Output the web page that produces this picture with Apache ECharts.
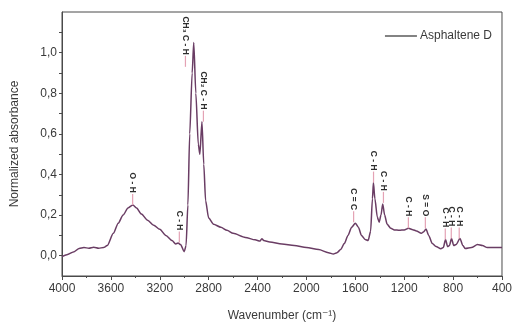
<!DOCTYPE html>
<html>
<head>
<meta charset="utf-8">
<script src="https://cdn.jsdelivr.net/npm/echarts@6/dist/echarts.min.js"></script>
<style>
  html, body { margin: 0; padding: 0; background: #fff; }
  #chart { width: 515px; height: 327px; }
</style>
</head>
<body>
<div id="chart"></div>
<script>
// FTIR spectrum of Asphaltene D: wavenumber (cm-1) and normalized absorbance
const wavenumbers = [
  4000, 3960, 3900, 3860, 3820, 3780, 3740, 3700, 3660, 3630,
  3580, 3540, 3500, 3460, 3420, 3390, 3350, 3300, 3250, 3200,
  3150, 3100, 3070, 3050, 3030, 3000, 2985, 2970, 2955, 2935,
  2922, 2905, 2885, 2872, 2855, 2840, 2825, 2800, 2760, 2700,
  2650, 2600, 2500, 2420, 2380, 2365, 2350, 2300, 2200, 2100,
  2000, 1900, 1820, 1780, 1750, 1720, 1690, 1660, 1630, 1600,
  1575, 1550, 1520, 1495, 1475, 1460, 1452, 1440, 1420, 1405,
  1390, 1376, 1360, 1340, 1310, 1280, 1240, 1200, 1165, 1130,
  1100, 1060, 1040, 1022, 1000, 970, 940, 900, 880, 862,
  845, 830, 813, 795, 775, 744, 720, 700, 650, 600,
  560, 520, 480, 440, 400
];
const absorbance = [
  -0.005, 0.005, 0.02, 0.036, 0.04, 0.037, 0.042, 0.037, 0.04, 0.05,
  0.11, 0.16, 0.20, 0.235, 0.25, 0.235, 0.205, 0.175, 0.15, 0.13,
  0.10, 0.075, 0.058, 0.062, 0.055, 0.02, 0.05, 0.25, 0.60, 0.90,
  1.05, 0.80, 0.55, 0.50, 0.66, 0.45, 0.27, 0.185, 0.155, 0.14,
  0.125, 0.11, 0.09, 0.078, 0.072, 0.084, 0.075, 0.068, 0.058, 0.05,
  0.04, 0.03, 0.015, 0.008, 0.015, 0.03, 0.06, 0.10, 0.14, 0.16,
  0.14, 0.10, 0.08, 0.075, 0.12, 0.28, 0.36, 0.28, 0.19, 0.165,
  0.20, 0.255, 0.20, 0.155, 0.135, 0.127, 0.125, 0.127, 0.135, 0.128,
  0.122, 0.11, 0.118, 0.132, 0.10, 0.06, 0.045, 0.034, 0.04, 0.08,
  0.045, 0.05, 0.085, 0.05, 0.055, 0.085, 0.05, 0.035, 0.04, 0.055,
  0.05, 0.04, 0.04, 0.04, 0.04
];

// Band assignments
const bandWavenumbers = [3422, 3040, 2990, 2843, 1614, 1451, 1370, 1166, 1027, 864, 815, 750];
const bandAbsorbance  = [0.25, 0.065, 0.93, 0.66, 0.165, 0.36, 0.26, 0.135, 0.135, 0.08, 0.085, 0.085];
const bandLabels = ['O - H', 'C - H', 'CH\u2083 C - H', 'CH\u2082 C - H', 'C = C', 'C - H', 'C - H',
                    'C - H', 'S = O', 'C - H', 'C - H', 'C - H'];

const xTicks = { min: 400, max: 4000, step: 400 };
const yTicks = { min: -0.1, max: 1.2, step: 0.1 };

const seriesName = 'Asphaltene D';
const spectrum = wavenumbers.map((w, i) => [w, absorbance[i]]);
const bands = bandWavenumbers.map((w, i) => [w, bandAbsorbance[i]]);

const axisColor = '#4a4a4a';
const textColor = '#3a3a3a';
const lineColor = '#6a3d64';
const font = 'Liberation Sans, Arial, DejaVu Sans, sans-serif';

const chart = echarts.init(document.getElementById('chart'), null, { renderer: 'canvas' });

chart.setOption({
  animation: false,
  backgroundColor: '#fff',
  grid: {
    left: 62, right: 11, top: 12, bottom: 51,
    show: true, borderColor: axisColor, borderWidth: 1
  },
  legend: {
    right: 18, top: 25,
    itemWidth: 32, itemHeight: 1.5, itemGap: 4,
    data: [{ name: seriesName, icon: 'rect' }],
    itemStyle: { color: '#5a5a5a' },
    textStyle: { fontFamily: font, fontSize: 12, color: textColor, padding: [0, 0, 0, -2] }
  },
  xAxis: {
    type: 'value',
    inverse: true,
    min: xTicks.min, max: xTicks.max, interval: xTicks.step,
    name: 'Wavenumber (cm\u207B\u00B9)',
    nameLocation: 'middle',
    nameGap: 34,
    nameTextStyle: { fontFamily: font, fontSize: 12, color: textColor },
    axisLine: { show: true, onZero: false, lineStyle: { color: axisColor, width: 1 } },
    axisTick: { show: true, length: 4, lineStyle: { color: axisColor } },
    minorTick: { show: true, splitNumber: 2, length: 2, lineStyle: { color: axisColor } },
    axisLabel: {
      fontFamily: font, fontSize: 12, color: textColor, margin: 7,
      formatter: function (v) { return String(Math.round(v)); }
    },
    splitLine: { show: false }
  },
  yAxis: {
    type: 'value',
    min: yTicks.min, max: yTicks.max, interval: yTicks.step,
    name: 'Normalized absorbance',
    nameLocation: 'middle',
    nameGap: 41,
    nameTextStyle: { fontFamily: font, fontSize: 12, color: textColor },
    axisLine: { show: true, onZero: false, lineStyle: { color: axisColor, width: 1 } },
    axisTick: { show: true, length: 3, lineStyle: { color: axisColor } },
    axisLabel: {
      fontFamily: font, fontSize: 12, color: textColor, margin: 5,
      showMaxLabel: false, showMinLabel: false,
      formatter: function (v) {
        const k = Math.round(v * 10);
        if (k < 0 || k > 10 || k % 2 !== 0) return '';
        return (k / 10).toFixed(1).replace('.', ',');
      }
    },
    splitLine: { show: false }
  },
  series: [
    {
      name: seriesName,
      type: 'line',
      data: spectrum,
      symbol: 'none',
      smooth: 0.25,
      smoothMonotone: 'x',
      color: lineColor,
      lineStyle: { color: lineColor, width: 1.5 },
      z: 3
    },
    {
      name: 'bands',
      type: 'custom',
      coordinateSystem: 'cartesian2d',
      data: bands,
      silent: true,
      z: 4,
      renderItem: function (params, api) {
        const p = api.coord([api.value(0), api.value(1)]);
        const stem = 11;
        return {
          type: 'group',
          children: [
            {
              type: 'line',
              shape: { x1: p[0], y1: p[1], x2: p[0], y2: p[1] - stem },
              style: { stroke: '#e4a2b4', lineWidth: 1.2 }
            },
            {
              type: 'text',
              x: p[0], y: p[1] - stem - 1,
              rotation: -Math.PI / 2,
              style: {
                text: bandLabels[params.dataIndex],
                fontFamily: font, fontSize: 8.5, fontWeight: 'bold',
                fill: '#2e2e2e', align: 'right', verticalAlign: 'middle'
              }
            }
          ]
        };
      }
    }
  ]
});
</script>
</body>
</html>
